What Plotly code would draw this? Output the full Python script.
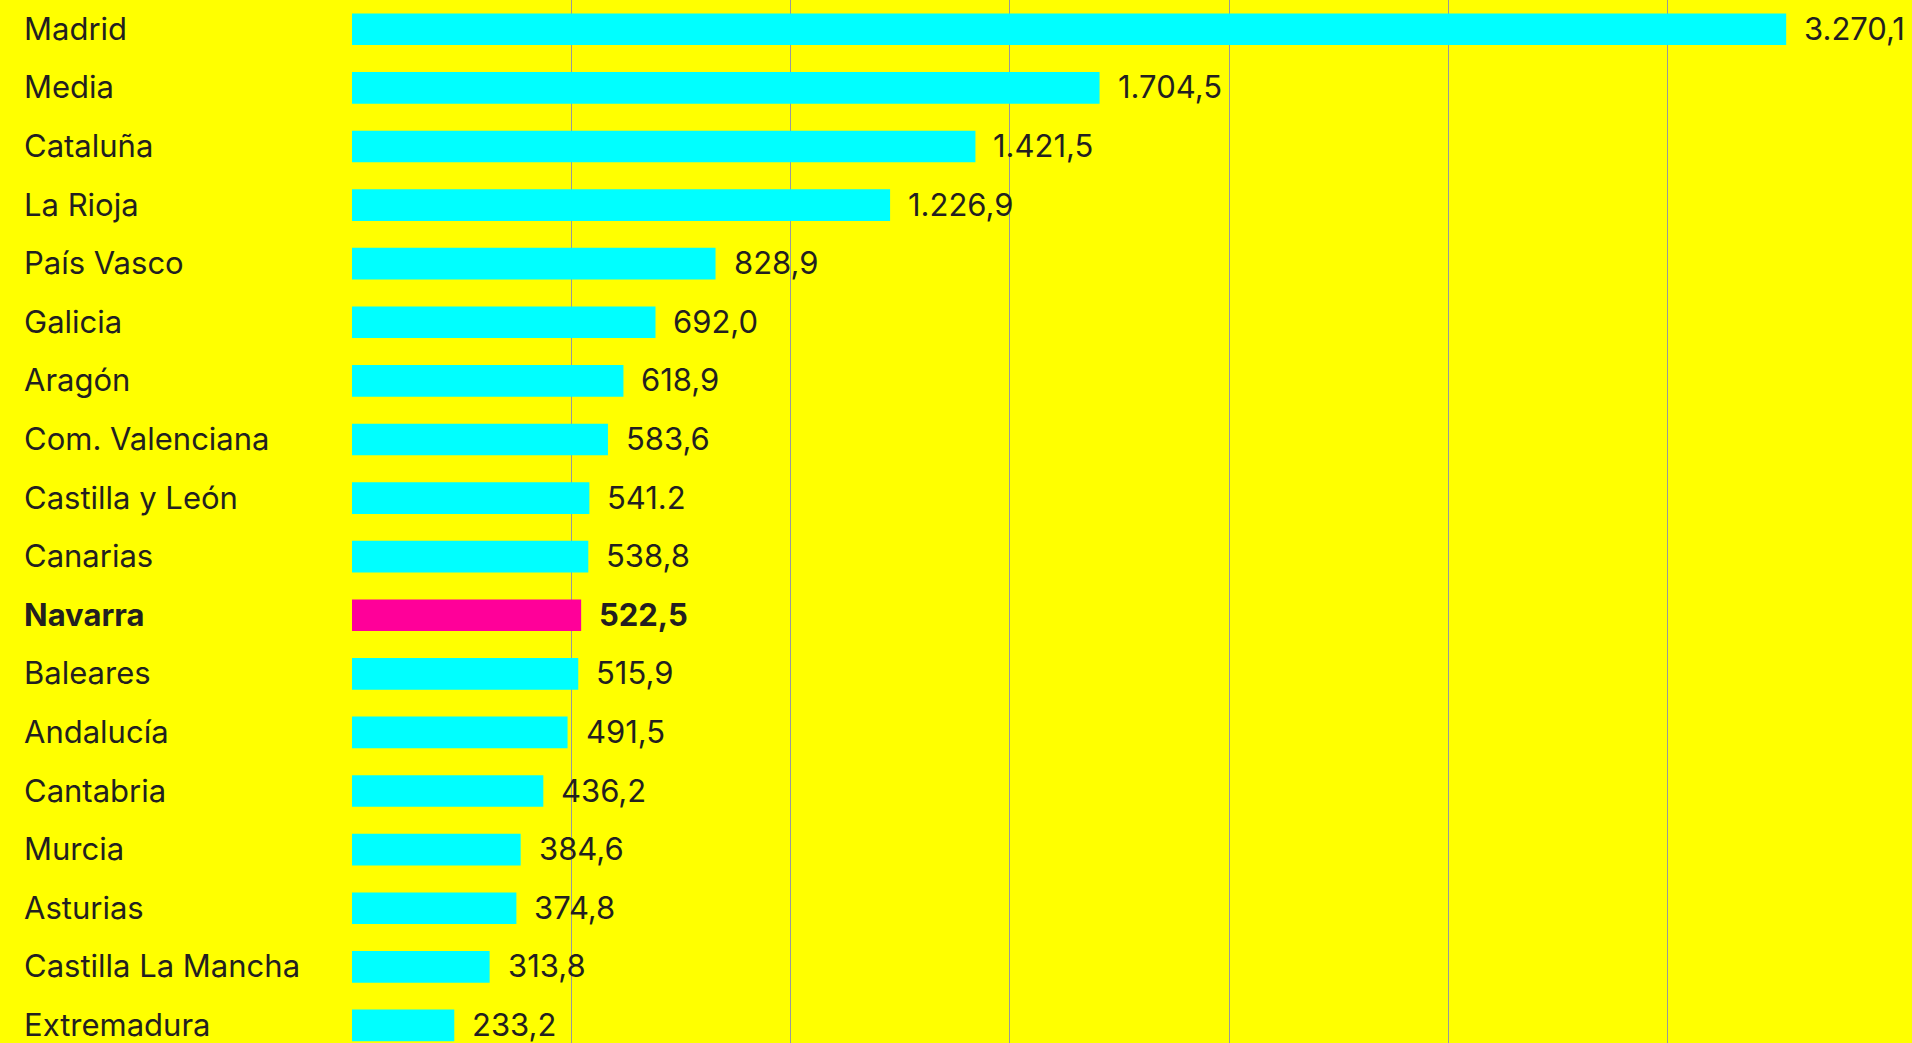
import plotly.graph_objects as go

regions = ["Madrid", "Media", "Cataluña", "La Rioja", "País Vasco", "Galicia", "Aragón",
           "Com. Valenciana", "Castilla y León", "Canarias", "Navarra", "Baleares",
           "Andalucía", "Cantabria", "Murcia", "Asturias", "Castilla La Mancha", "Extremadura"]
values = [3270.1, 1704.5, 1421.5, 1226.9, 828.9, 692.0, 618.9, 583.6, 541.2, 538.8,
          522.5, 515.9, 491.5, 436.2, 384.6, 374.8, 313.8, 233.2]
value_labels = ["3.270,1", "1.704,5", "1.421,5", "1.226,9", "828,9", "692,0", "618,9",
                "583,6", "541.2", "538,8", "522,5", "515,9", "491,5", "436,2", "384,6",
                "374,8", "313,8", "233,2"]
grid_ticks = [500, 1000, 1500, 2000, 2500, 3000]
highlight = "Navarra"

W, H = 1912, 1043
BG = "#FFFF00"
CYAN = "#00FFFF"
PINK = "#FF0099"
TXT = "#231F20"
FONT = "Inter, Roboto, sans-serif"
FS = 31

colors = [PINK if r == highlight else CYAN for r in regions]

fig = go.Figure(go.Bar(
    x=values, y=regions, orientation="h",
    marker=dict(color=colors, line=dict(width=0)),
    width=0.54, hoverinfo="skip",
))

annotations = []
for r, v, lab in zip(regions, values, value_labels):
    bold = r == highlight
    annotations.append(dict(
        x=v, y=r, xref="x", yref="y", text=f"<b>{lab}</b>" if bold else lab,
        showarrow=False, xanchor="left", xshift=16, yshift=1,
        font=dict(family=FONT, size=FS, color=TXT),
    ))
    annotations.append(dict(
        x=22 / W, y=r, xref="paper", yref="y", text=f"<b>{r}</b>" if bold else r,
        showarrow=False, xanchor="left", yshift=1,
        font=dict(family=FONT, size=FS, color=TXT),
    ))

fig.update_layout(
    width=W, height=H,
    paper_bgcolor=BG, plot_bgcolor=BG,
    margin=dict(l=0, r=0, t=0, b=0),
    showlegend=False,
    annotations=annotations,
    xaxis=dict(domain=[352 / W, 1], range=[0, 3557], showgrid=True, gridcolor="#999999",
               gridwidth=1, tickmode="array", tickvals=grid_ticks, zeroline=False,
               showticklabels=False, ticks="", fixedrange=True),
    yaxis=dict(categoryorder="array", categoryarray=regions, range=[17.3, -0.5],
               showticklabels=False, showgrid=False, zeroline=False, ticks=""),
)

fig.write_html("out.html", config={"displayModeBar": False},
               post_script="document.body.style.margin='0';document.body.style.background='#FFFF00';")
